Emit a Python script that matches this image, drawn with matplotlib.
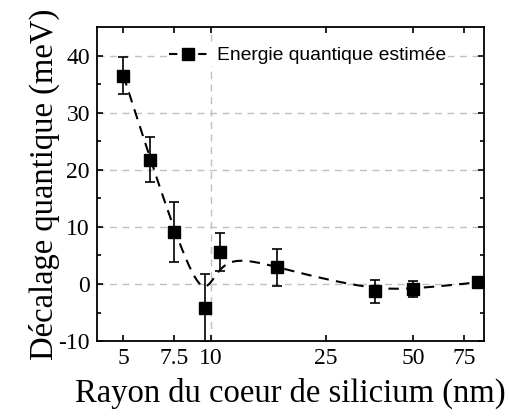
import numpy as np
import matplotlib
matplotlib.use("Agg")
import matplotlib.pyplot as plt
from matplotlib.ticker import FixedLocator, FixedFormatter

# data
rayon = [5.0, 6.2, 7.5, 9.6, 10.8, 17.0, 37.0, 50.0, 84.0]
energie = [36.5, 21.8, 9.1, -4.2, 5.6, 2.9, -1.3, -0.9, 0.3]
erreur = [3.2, 4.0, 5.2, 5.9, 3.4, 3.3, 2.0, 1.4, 0.4]

xtick_vals = [5, 7.5, 25, 50, 75]
xtick_labels = ["5", "7.5", "25", "50", "75"]
ytick_vals = [-10, 0, 10, 20, 30, 40]

plt.rcParams["axes.unicode_minus"] = False


def bspline(px, py, npts=400, k=3):
    # clamped uniform B-spline with the data points as control points
    n = len(px)
    t = np.concatenate([np.zeros(k), np.arange(n - k + 1), np.full(k, n - k)]).astype(float)
    u = np.linspace(0, n - k, npts)
    u[-1] -= 1e-9
    B = np.zeros((npts, len(t) - 1))
    for i in range(len(t) - 1):
        B[:, i] = (u >= t[i]) & (u < t[i + 1])
    for d in range(1, k + 1):
        Bn = np.zeros((npts, len(t) - 1 - d))
        for i in range(len(t) - 1 - d):
            a = 0.0
            if t[i + d] > t[i]:
                a = (u - t[i]) / (t[i + d] - t[i]) * B[:, i]
            b = 0.0
            if t[i + d + 1] > t[i + 1]:
                b = (t[i + d + 1] - u) / (t[i + d + 1] - t[i + 1]) * B[:, i + 1]
            Bn[:, i] = a + b
        B = Bn
    return B @ np.asarray(px), B @ np.asarray(py)


serif = "Liberation Serif"
sans = "Liberation Sans"

fig = plt.figure(figsize=(5.1, 4.16), dpi=100)
ax = fig.add_axes([0.190, 0.180, 0.759, 0.755])

lx, ly = bspline(np.log10(rayon), energie)
ax.plot(10 ** lx, ly, color="black", lw=1.5, dashes=(5, 3.5), zorder=3)
ax.errorbar(rayon, energie, yerr=erreur, fmt="none", ecolor="black",
            elinewidth=1.2, capsize=3.5, capthick=1.2, zorder=4)
ax.plot(rayon, energie, "s", color="black", ms=8, zorder=5)

# legend proxy
ax.plot([], [], "s", color="black", ms=8, ls="--", lw=1.5, dashes=(4, 3),
        label="Energie quantique estimée")

ax.set_xscale("log")
ax.set_xlim(4.05, 88)
ax.set_ylim(-10, 45)

ax.xaxis.set_major_locator(FixedLocator([10]))
ax.xaxis.set_major_formatter(FixedFormatter(["10"]))
ax.xaxis.set_minor_locator(FixedLocator(xtick_vals))
ax.xaxis.set_minor_formatter(FixedFormatter(xtick_labels))
ax.yaxis.set_major_locator(FixedLocator(ytick_vals))
ax.yaxis.set_minor_locator(FixedLocator([-5, 5, 15, 25, 35]))

ax.tick_params(which="both", direction="in", top=True, right=True,
               width=1.2, labelsize=17, pad=5, length=4)
ax.tick_params(axis="y", which="minor", length=3)
for lab in ax.get_xticklabels(which="both") + ax.get_yticklabels():
    lab.set_fontfamily(serif)

ax.grid(True, axis="y", which="major", color="#c0c0c0", lw=1.0, dashes=(5, 4))
ax.grid(True, axis="x", which="major", color="#c0c0c0", lw=1.0, dashes=(5, 4))
ax.set_axisbelow(True)
for s in ax.spines.values():
    s.set_linewidth(1.3)

ax.set_xlabel("Rayon du coeur de silicium (nm)", fontsize=23.5, family=serif, labelpad=6)
ax.set_ylabel("Décalage quantique (meV)", fontsize=23.5, family=serif, labelpad=-1)

leg = ax.legend(loc="center left", bbox_to_anchor=(0.18, 50 / 55), frameon=True,
                prop={"family": sans, "size": 13.9}, handlelength=2.0,
                handletextpad=0.5, borderpad=0.1, borderaxespad=0)
leg.get_frame().set_edgecolor("none")
leg.get_frame().set_facecolor("white")
leg.get_frame().set_alpha(1)

fig.savefig("out.png", dpi=100)
